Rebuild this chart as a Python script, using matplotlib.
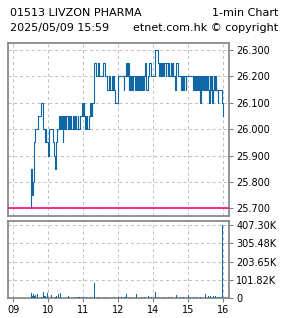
import matplotlib
matplotlib.use("Agg")
import numpy as np
import matplotlib.pyplot as plt

# minute index on a compressed axis: 0 = 09:00, 180 = 12:00/13:00, 360 = 16:00
price_start = 30

# 09:30 - 11:59
am_prices = [
    25.70, 25.85, 25.80, 25.75, 25.80, 25.80, 25.95, 26.00, 26.00, 26.00,
    26.00, 26.00, 26.05, 26.05, 26.05, 26.05, 26.05, 26.05, 26.10, 26.10,
    26.10, 26.10, 26.00, 26.00, 26.00, 25.95, 26.00, 25.95, 25.95, 25.95,
    25.90, 26.00, 26.00, 26.00, 26.00, 26.00, 26.00, 26.00, 26.00, 25.95,
    25.90, 25.90, 25.85, 25.85, 25.95, 26.00, 26.00, 26.00, 26.00, 26.05,
    26.05, 26.00, 26.05, 26.00, 26.05, 25.95, 26.05, 26.05, 26.00, 26.05,
    26.00, 26.05, 26.05, 26.05, 26.00, 26.05, 26.05, 26.00, 26.05, 26.05,
    26.00, 26.00, 26.00, 26.05, 26.00, 26.00, 26.00, 26.05, 26.00, 26.00,
    26.00, 26.05, 26.00, 26.00, 26.05, 26.05, 26.05, 26.05, 26.05, 26.10,
    26.05, 26.10, 26.05, 26.00, 26.00, 26.05, 26.05, 26.00, 26.00, 26.00,
    26.00, 26.05, 26.10, 26.05, 26.10, 26.05, 26.10, 26.10, 26.15, 26.25,
    26.25, 26.25, 26.20, 26.20, 26.20, 26.25, 26.25, 26.25, 26.20, 26.20,
    26.20, 26.20, 26.20, 26.20, 26.20, 26.25, 26.25, 26.20, 26.20, 26.20,
    26.20, 26.15, 26.15, 26.15, 26.15, 26.20, 26.15, 26.15, 26.15, 26.15,
    26.20, 26.15, 26.20, 26.15, 26.15, 26.10, 26.10, 26.10, 26.10, 26.10,
]

# 13:00 - 16:00
pm_prices = [
    26.20, 26.20, 26.20, 26.20, 26.20, 26.20, 26.20, 26.20, 26.20, 26.20,
    26.15, 26.20, 26.20, 26.20, 26.25, 26.25, 26.20, 26.25, 26.15, 26.20,
    26.15, 26.20, 26.15, 26.20, 26.15, 26.20, 26.20, 26.20, 26.20, 26.15,
    26.20, 26.20, 26.15, 26.20, 26.15, 26.20, 26.15, 26.20, 26.20, 26.15,
    26.20, 26.15, 26.20, 26.15, 26.20, 26.20, 26.25, 26.25, 26.15, 26.15,
    26.15, 26.15, 26.20, 26.20, 26.25, 26.25, 26.20, 26.20, 26.20, 26.20,
    26.20, 26.20, 26.20, 26.30, 26.30, 26.30, 26.30, 26.30, 26.25, 26.25,
    26.20, 26.25, 26.20, 26.25, 26.20, 26.25, 26.25, 26.25, 26.20, 26.25,
    26.25, 26.25, 26.20, 26.25, 26.25, 26.25, 26.20, 26.25, 26.20, 26.20,
    26.20, 26.25, 26.20, 26.20, 26.25, 26.20, 26.20, 26.20, 26.15, 26.20,
    26.25, 26.25, 26.25, 26.20, 26.20, 26.20, 26.20, 26.20, 26.15, 26.20,
    26.20, 26.20, 26.15, 26.20, 26.20, 26.20, 26.15, 26.20, 26.20, 26.20,
    26.20, 26.20, 26.20, 26.20, 26.20, 26.20, 26.20, 26.20, 26.20, 26.15,
    26.15, 26.20, 26.15, 26.20, 26.15, 26.20, 26.15, 26.20, 26.15, 26.20,
    26.15, 26.10, 26.20, 26.15, 26.20, 26.15, 26.20, 26.15, 26.20, 26.15,
    26.20, 26.15, 26.20, 26.15, 26.20, 26.15, 26.10, 26.20, 26.15, 26.20,
    26.15, 26.20, 26.10, 26.15, 26.20, 26.15, 26.20, 26.15, 26.20, 26.15,
    26.15, 26.10, 26.15, 26.15, 26.15, 26.15, 26.15, 26.15, 26.10, 26.10,
    26.05,
]

prev_close = 25.70

# volume (thousands of shares) for the minutes with a visible bar
vol_minutes = [31, 33, 35, 37, 38, 41, 48, 52, 53, 56, 59, 65, 72, 75, 78, 81,
               95, 106, 113, 119, 126, 132, 139, 146, 158, 174, 180, 186, 192,
               195, 199, 211, 221, 226, 232, 238, 244, 249, 258, 266, 272, 280,
               287, 292, 301, 304, 309, 315, 321, 330, 335, 339, 344, 347, 350,
               354, 360]
vol_k = [31, 15, 22, 11, 18, 22, 9, 33, 15, 11, 28, 18, 6, 15, 22, 28,
         15, 6, 9, 9, 6, 7, 87, 9, 7, 6, 9, 6, 9,
         22, 9, 22, 7, 7, 15, 6, 37, 6, 6, 6, 7, 18,
         9, 6, 18, 7, 6, 6, 6, 26, 15, 15, 15, 11, 7,
         9, 407.30]

price_ticks = [25.70, 25.80, 25.90, 26.00, 26.10, 26.20, 26.30]
vol_ticks = [0, 101.82, 203.65, 305.48, 407.30]
vol_labels = ["0", "101.82K", "203.65K", "305.48K", "407.30K"]
time_ticks = [0, 60, 120, 180, 240, 300, 360]
time_labels = ["09", "10", "11", "12", "14", "15", "16"]

LINE = "#0f67a6"
FRAME = "#808080"
GRID = "#bdbdbd"

plt.rcParams["font.family"] = ["DejaVu Sans"]

fig = plt.figure(figsize=(2.85, 3.18), dpi=100)
ax = fig.add_axes([0.0298, 0.3208, 0.7748, 0.5449])
axv = fig.add_axes([0.0298, 0.062, 0.7748, 0.243])

prices = am_prices + pm_prices
x = np.arange(price_start, price_start + len(prices))

ax.plot(x, prices, drawstyle="steps-post", color=LINE, lw=0.8, zorder=3)
ax.axhline(prev_close, color="#ff0a80", lw=1.2, zorder=4)

axv.bar(vol_minutes, vol_k, width=1.8, color=LINE, linewidth=0, zorder=3)

for a in (ax, axv):
    a.set_xlim(-8, 371)
    a.set_xticks(time_ticks)
    a.yaxis.tick_right()
    a.grid(True, ls=(0, (3, 3)), color=GRID, lw=0.7, zorder=0)
    for s in a.spines.values():
        s.set_color(FRAME)
        s.set_linewidth(1.2)
    a.tick_params(axis="both", colors=FRAME, labelcolor="black", labelsize=7,
                  length=3, width=0.8, pad=2)

ax.set_ylim(25.671, 26.328)
ax.set_yticks(price_ticks)
ax.set_yticklabels([f"{p:.3f}" for p in price_ticks])
ax.tick_params(axis="x", length=0, labelbottom=False)

axv.set_ylim(0, 429)
axv.set_yticks(vol_ticks)
axv.set_yticklabels(vol_labels)
axv.set_xticklabels(time_labels)

fig.text(10 / 285, 1 - 13 / 318, "01513 LIVZON PHARMA", fontsize=8, va="center", ha="left")
fig.text(278 / 285, 1 - 13 / 318, "1-min Chart", fontsize=8, va="center", ha="right")
fig.text(10 / 285, 1 - 28 / 318, "2025/05/09 15:59", fontsize=8, va="center", ha="left")
fig.text(278 / 285, 1 - 28 / 318, "etnet.com.hk \u00a9 copyright", fontsize=8, va="center", ha="right")

fig.savefig("out.png", dpi=100)
